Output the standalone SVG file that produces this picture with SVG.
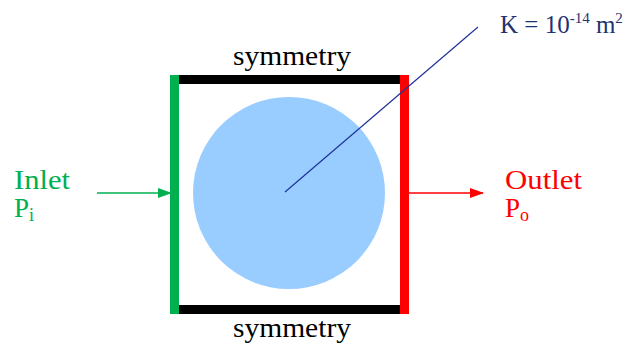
<svg xmlns="http://www.w3.org/2000/svg" width="638" height="347" viewBox="0 0 638 347">
<style>
text{font-family:"Liberation Serif","Times New Roman",serif}
.g{fill:#00B050}.r{fill:#FF0000}.k{fill:#000}.b{fill:#1F3370}
</style>
<defs>
<marker id="ar" markerWidth="14" markerHeight="10" refX="13" refY="5" orient="auto" markerUnits="userSpaceOnUse"><path d="M0,0 L14,5 L0,10Z" fill="#FF0000"/></marker>
<marker id="ag2" markerWidth="14" markerHeight="10" refX="13" refY="5" orient="auto" markerUnits="userSpaceOnUse"><path d="M0,0 L14,5 L0,10Z" fill="#00B050"/></marker>
</defs>
<g id="domain">
<circle cx="289" cy="193" r="96" fill="#99CCFF"/>
<rect x="173" y="75" width="234" height="9" fill="#000"/>
<rect x="173" y="305" width="234" height="9" fill="#000"/>
<rect x="170" y="75" width="9" height="239" fill="#00B050"/>
<rect x="400" y="75" width="9" height="239" fill="#FF0000"/>
</g>
<g font-size="27">
<g id="sym-top"><text x="292" y="65" text-anchor="middle" class="k" textLength="118" lengthAdjust="spacingAndGlyphs">symmetry</text></g>
<g id="sym-bottom"><text x="292" y="337" text-anchor="middle" class="k" textLength="118" lengthAdjust="spacingAndGlyphs">symmetry</text></g>
<g id="inlet"><text x="14" y="189" class="g" textLength="56" lengthAdjust="spacingAndGlyphs">Inlet</text><text x="14" y="217" class="g">P<tspan font-size="18" dy="4">i</tspan></text></g>
<g id="outlet"><text x="505" y="189" class="r" textLength="77" lengthAdjust="spacingAndGlyphs">Outlet</text><text x="505" y="217" class="r">P<tspan font-size="18" dy="4">o</tspan></text></g>
<g id="perm"><text x="500" y="33" class="b" font-size="25">K = 10<tspan font-size="15" dy="-10">-14</tspan><tspan dy="10"> m</tspan><tspan font-size="15" dy="-10">2</tspan></text></g>
</g>
<g id="connectors">
<line x1="97" y1="193" x2="171" y2="193" stroke="#00B050" stroke-width="1.5" marker-end="url(#ag2)"/>
<line x1="409" y1="193" x2="483" y2="193" stroke="#FF0000" stroke-width="1.5" marker-end="url(#ar)"/>
<line x1="285" y1="192" x2="478" y2="27" stroke="#1F3399" stroke-width="1.2"/>
</g>
</svg>
